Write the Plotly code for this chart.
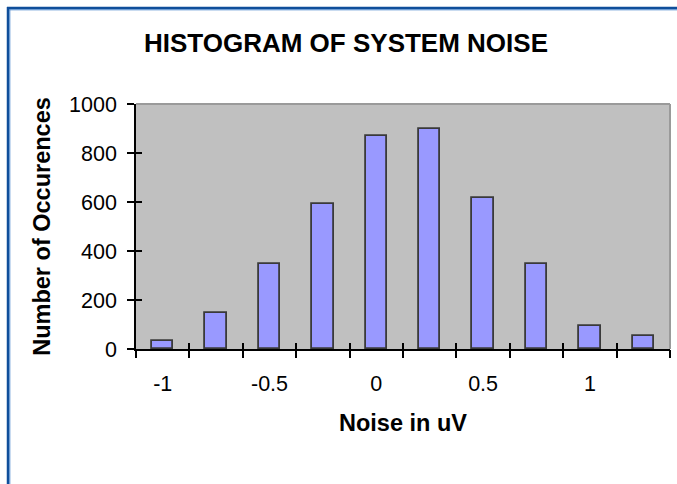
import plotly.graph_objects as go

# ---- data ----
noise_bins = [-1.0, -0.75, -0.5, -0.25, 0.0, 0.25, 0.5, 0.75, 1.0, 1.25]
occurrences = [33, 148, 345, 590, 868, 900, 618, 345, 95, 52]
x_tick_vals = [-1.0, -0.5, 0.0, 0.5, 1.0]
x_tick_text = ["-1", "-0.5", "0", "0.5", "1"]
y_tick_vals = [0, 200, 400, 600, 800, 1000]

W, H = 677, 484
ML, MR, MT, MB = 136, 7, 104, 135
PW, PH = W - ML - MR, H - MT - MB
BIN = 0.25
x_range = [noise_bins[0] - BIN / 2, noise_bins[-1] + BIN / 2]
y_range = [0, 1000]
boundaries = [b - BIN / 2 for b in noise_bins] + [noise_bins[-1] + BIN / 2]

FONT = "Liberation Sans, Arial, sans-serif"


def px_x(px):
    return (px - ML) / PW


def px_y(py):
    return (H - MB - py) / PH


fig = go.Figure()
fig.add_trace(go.Bar(
    x=noise_bins, y=occurrences, width=BIN * 0.4,
    marker=dict(color="#9999FF", line=dict(color="#3A3A3A", width=1.8)),
    hoverinfo="x+y",
))
# invisible helper traces so the overlaid tick-only axes are drawn
fig.add_trace(go.Scatter(x=boundaries, y=[0] * len(boundaries), xaxis="x2", yaxis="y",
                         mode="markers", marker=dict(opacity=0), hoverinfo="skip"))
fig.add_trace(go.Scatter(x=boundaries, y=[0] * len(boundaries), xaxis="x3", yaxis="y",
                         mode="markers", marker=dict(opacity=0), hoverinfo="skip"))
fig.add_trace(go.Scatter(x=noise_bins[:1], y=y_tick_vals[:1], xaxis="x", yaxis="y2",
                         mode="markers", marker=dict(opacity=0), hoverinfo="skip"))

tick_common = dict(range=x_range, showgrid=False, zeroline=False)
fig.update_layout(
    width=W, height=H,
    margin=dict(l=ML, r=MR, t=MT, b=MB, autoexpand=False),
    paper_bgcolor="white", plot_bgcolor="#C0C0C0",
    showlegend=False,
    bargap=0,
    title=dict(text="<b>HISTOGRAM OF SYSTEM NOISE</b>", x=346 / W, xanchor="center",
               xref="container", y=1 - 43 / H, yanchor="middle", yref="container",
               font=dict(family=FONT, size=26, color="black")),
    xaxis=dict(range=x_range, tickvals=x_tick_vals, ticktext=x_tick_text, ticks="",
               showline=True, linecolor="black", linewidth=1.5, showgrid=False, zeroline=False,
               tickfont=dict(family=FONT, size=21.5, color="black"), ticklabelstandoff=14,
               title=dict(text="<b>Noise in uV</b>", standoff=20,
                          font=dict(family=FONT, size=23.5, color="black"))),
    xaxis2=dict(overlaying="x", anchor="y", side="bottom", tickmode="array", tickvals=boundaries,
                ticks="outside", ticklen=8, tickwidth=1.5, tickcolor="black",
                showticklabels=False, showline=False, **tick_common),
    xaxis3=dict(overlaying="x", anchor="y", side="bottom", tickmode="array", tickvals=boundaries,
                ticks="inside", ticklen=6, tickwidth=1.5, tickcolor="black",
                showticklabels=False, showline=False, **tick_common),
    yaxis=dict(range=y_range, tickvals=y_tick_vals, ticks="outside", ticklen=7, tickwidth=1.5,
               tickcolor="black", showline=True, linecolor="black", linewidth=1.5,
               showgrid=False, zeroline=False, ticklabelstandoff=6,
               tickfont=dict(family=FONT, size=21.5, color="black"),
               title=dict(text="<b>Number of Occurences</b>", standoff=12,
                          font=dict(family=FONT, size=23.5, color="black"))),
    yaxis2=dict(overlaying="y", anchor="x", side="left", range=y_range, tickvals=y_tick_vals,
                ticks="inside", ticklen=6, tickwidth=1.5, tickcolor="black",
                showticklabels=False, showline=False, showgrid=False, zeroline=False),
)

# plot-area outline (top and right in gray)
fig.add_shape(type="line", xref="paper", yref="paper", x0=0, x1=1, y0=1, y1=1,
              line=dict(color="#9A9A9A", width=2), layer="above")
fig.add_shape(type="line", xref="paper", yref="paper", x0=1, x1=1, y0=0, y1=1,
              line=dict(color="#9A9A9A", width=2), layer="above")

# blue frame (top and left edges of the picture)
fig.add_shape(type="line", xref="paper", yref="paper", x0=px_x(7), x1=px_x(W), y0=px_y(8), y1=px_y(8),
              line=dict(color="#0F4E9A", width=2.5), layer="above")
fig.add_shape(type="line", xref="paper", yref="paper", x0=px_x(8), x1=px_x(8), y0=px_y(7), y1=px_y(H),
              line=dict(color="#0F4E9A", width=2.5), layer="above")
fig.add_shape(type="line", xref="paper", yref="paper", x0=px_x(9), x1=px_x(W), y0=px_y(9.8), y1=px_y(9.8),
              line=dict(color="#4A86CC", width=1), layer="above")
fig.add_shape(type="line", xref="paper", yref="paper", x0=px_x(9.8), x1=px_x(9.8), y0=px_y(9), y1=px_y(H),
              line=dict(color="#4A86CC", width=1), layer="above")

fig.write_html("out.html", config={"displayModeBar": False},
               post_script="document.body.style.margin='0';")
